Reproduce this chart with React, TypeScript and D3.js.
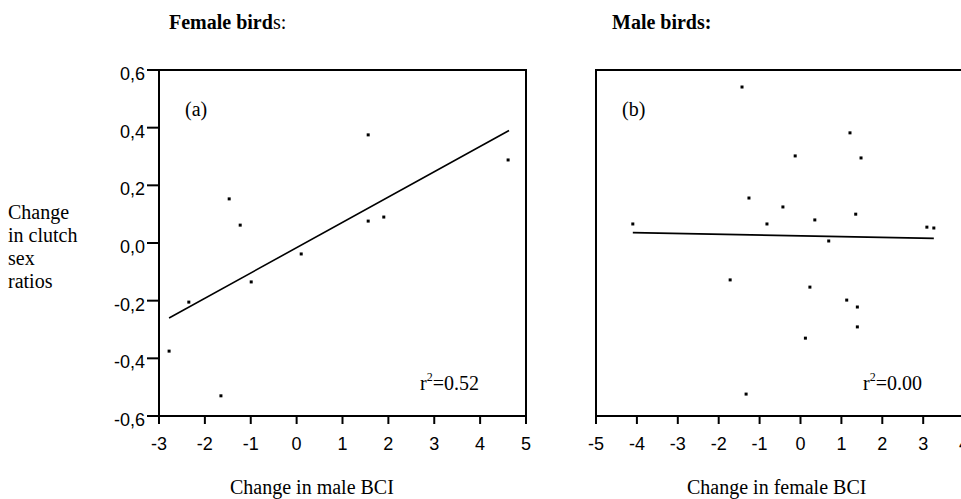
import React, { useRef, useEffect } from 'react';
import * as d3 from 'd3';

// panel (a): female birds, change in male BCI vs change in clutch sex ratio
const femaleX = [-1.47, -1.23, 1.56, 1.56, 1.9, 4.61, 0.1, -0.99, -2.35, -2.78, -1.65];
const femaleY = [0.153, 0.062, 0.375, 0.076, 0.09, 0.288, -0.038, -0.135, -0.205, -0.375, -0.53];
const femaleFit = [[-2.78, -0.26], [4.63, 0.39]];

// panel (b): male birds, change in female BCI
const maleX = [-1.43, 1.21, -0.13, 1.48, -1.26, -0.43, -4.1, -0.82, 0.35, 1.35, 0.69, 3.09, 3.26,
  -1.72, 0.23, 1.13, 1.39, 1.39, 0.12, -1.33];
const maleY = [0.541, 0.382, 0.302, 0.295, 0.156, 0.125, 0.066, 0.066, 0.08, 0.1, 0.007, 0.055, 0.052,
  -0.128, -0.153, -0.198, -0.222, -0.291, -0.33, -0.524];
const maleFit = [[-4.1, 0.036], [3.26, 0.016]];

const yTicks = [-0.6, -0.4, -0.2, 0, 0.2, 0.4, 0.6];
const yTickLabels = ['-0,6', '-0,4', '-0,2', '0,0', '0,2', '0,4', '0,6'];
const xTicksA = [-3, -2, -1, 0, 1, 2, 3, 4, 5];
const xTicksB = [-5, -4, -3, -2, -1, 0, 1, 2, 3, 4];
const yTitle = ['Change', 'in clutch', 'sex', 'ratios'];

const SERIF = '"Liberation Serif", "Times New Roman", serif';
const SANS = '"Liberation Sans", Arial, sans-serif';

const App = () => {
  const svgRef = useRef(null);

  useEffect(() => {
    const svg = d3.select(svgRef.current);
    svg.selectAll('*').remove();

    const y = d3.scaleLinear().domain([-0.6, 0.6]).range([416, 70]);

    const drawPanel = (opts) => {
      const { x, xs, ys, fit, ticks, label, r2, r2x, title, titleX, xTitle, xTitleX, showY } = opts;
      const g = svg.append('g');
      const [x0, x1] = x.range();

      // frame
      g.append('rect')
        .attr('x', x0).attr('y', 70)
        .attr('width', x1 - x0).attr('height', 346)
        .attr('fill', 'none').attr('stroke', '#000').attr('stroke-width', 2);

      // x ticks
      g.selectAll('.xt').data(ticks).enter().append('line')
        .attr('x1', d => x(d)).attr('x2', d => x(d))
        .attr('y1', 416).attr('y2', 424)
        .attr('stroke', '#000').attr('stroke-width', 2);
      g.selectAll('.xl').data(ticks).enter().append('text')
        .attr('x', d => x(d)).attr('y', 450)
        .attr('text-anchor', 'middle')
        .attr('font-family', SANS).attr('font-size', 18)
        .text(d => d);

      if (showY) {
        g.selectAll('.yt').data(yTicks).enter().append('line')
          .attr('x1', x0 - 12).attr('x2', x0)
          .attr('y1', d => y(d)).attr('y2', d => y(d))
          .attr('stroke', '#000').attr('stroke-width', 2);
        g.selectAll('.yl').data(yTicks).enter().append('text')
          .attr('x', x0 - 14).attr('y', d => y(d) + 10)
          .attr('text-anchor', 'end')
          .attr('font-family', SANS).attr('font-size', 18)
          .text((d, i) => yTickLabels[i]);
      }

      // regression line
      g.append('line')
        .attr('x1', x(fit[0][0])).attr('y1', y(fit[0][1]))
        .attr('x2', x(fit[1][0])).attr('y2', y(fit[1][1]))
        .attr('stroke', '#000').attr('stroke-width', 1.6);

      // points
      g.selectAll('.pt').data(xs).enter().append('rect')
        .attr('x', (d) => x(d) - 1.5)
        .attr('y', (d, i) => y(ys[i]) - 1.5)
        .attr('width', 3).attr('height', 3)
        .attr('fill', '#000');

      g.append('text')
        .attr('x', x0 + 26).attr('y', 116)
        .attr('font-family', SERIF).attr('font-size', 20)
        .text(label);

      const rt = g.append('text')
        .attr('x', r2x).attr('y', 390)
        .attr('font-family', SERIF).attr('font-size', 20);
      rt.append('tspan').text('r');
      rt.append('tspan').attr('font-size', 12).attr('dy', -9).text('2');
      rt.append('tspan').attr('dy', 9).text('=' + r2);

      const tt = g.append('text')
        .attr('x', titleX).attr('y', 29)
        .attr('font-family', SERIF).attr('font-size', 20).attr('font-weight', 'bold');
      title.forEach(([s, w]) => tt.append('tspan').attr('font-weight', w).text(s));

      g.append('text')
        .attr('x', xTitleX).attr('y', 494)
        .attr('font-family', SERIF).attr('font-size', 20)
        .text(xTitle);
    };

    drawPanel({
      x: d3.scaleLinear().domain([-3, 5]).range([159, 526]),
      xs: femaleX, ys: femaleY, fit: femaleFit, ticks: xTicksA,
      label: '(a)', r2: '0.52', r2x: 420,
      title: [['Female bird', 'bold'], ['s:', 'normal']], titleX: 169,
      xTitle: 'Change in male BCI', xTitleX: 230, showY: true
    });

    drawPanel({
      x: d3.scaleLinear().domain([-5, 5]).range([596, 1005]),
      xs: maleX, ys: maleY, fit: maleFit, ticks: xTicksB,
      label: '(b)', r2: '0.00', r2x: 863,
      title: [['Male birds:', 'bold']], titleX: 612,
      xTitle: 'Change in female BCI', xTitleX: 687, showY: false
    });

    const yt = svg.append('text')
      .attr('font-family', SERIF).attr('font-size', 20);
    yt.selectAll('tspan').data(yTitle).enter().append('tspan')
      .attr('x', 8).attr('y', (d, i) => 219 + i * 23)
      .text(d => d);
  }, []);

  return (
    <div style={{ position: 'absolute', left: 0, top: 0, width: 961, height: 499, overflow: 'hidden', background: '#fff' }}>
      <svg ref={svgRef} width={961} height={499}></svg>
    </div>
  );
};

export default App;
